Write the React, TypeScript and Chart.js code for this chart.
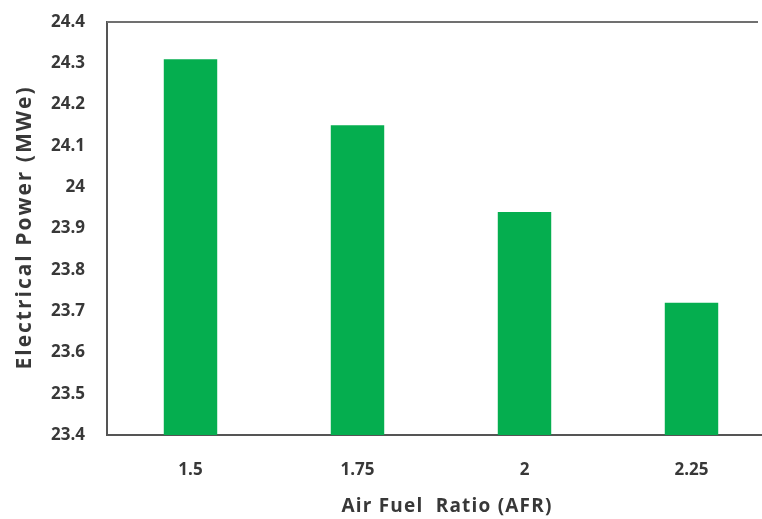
import React, { useEffect, useRef } from "react";
import { Chart, registerables } from "chart.js";

Chart.register(...registerables);

const categories = ["1.5", "1.75", "2", "2.25"];
const powerValues = [24.31, 24.15, 23.94, 23.72];
const yMin = 23.4;
const yMax = 24.4;
const yStep = 0.1;
const xTitle = "Air Fuel  Ratio (AFR)";
const yTitle = "Electrical Power (MWe)";

const FONT = "'Open Sans', 'DejaVu Sans', sans-serif";

const decorPlugin = {
  id: "decor",
  afterDraw(chart: any) {
    const { ctx, chartArea } = chart;
    ctx.save();
    ctx.strokeStyle = "#707070";
    ctx.lineWidth = 2;
    ctx.beginPath();
    ctx.moveTo(chartArea.left, chartArea.top);
    ctx.lineTo(758, chartArea.top);
    ctx.stroke();
    ctx.restore();

    // axis titles (wide tracking like the reference)
    ctx.save();
    ctx.fillStyle = "#383838";
    ctx.textAlign = "center";
    ctx.textBaseline = "middle";
    (ctx as any).letterSpacing = "2px";
    ctx.font = `bold 21px ${FONT}`;
    ctx.translate(25, (chartArea.top + chartArea.bottom) / 2);
    ctx.rotate(-Math.PI / 2);
    ctx.fillText(yTitle, 1, 0);
    ctx.restore();

    ctx.save();
    ctx.fillStyle = "#383838";
    ctx.textAlign = "center";
    ctx.textBaseline = "middle";
    (ctx as any).letterSpacing = "1.2px";
    ctx.font = `bold 19px ${FONT}`;
    ctx.fillText(xTitle, (chartArea.left + chartArea.right) / 2 + 6, 507);
    ctx.restore();
  },
};

export default function App() {
  const ref = useRef<HTMLCanvasElement>(null);
  useEffect(() => {
    const canvas = ref.current!;
    const chart = new Chart(canvas, {
      type: "bar",
      data: {
        labels: categories,
        datasets: [
          {
            data: powerValues,
            backgroundColor: "#05ae4f",
            barPercentage: 0.64,
            categoryPercentage: 0.5,
            base: yMin,
          },
        ],
      },
      options: {
        responsive: false,
        animation: false,
        layout: { padding: { left: 0, top: 22, right: 0, bottom: 0 } },
        plugins: { legend: { display: false }, tooltip: { enabled: false } },
        scales: {
          x: {
            grid: { display: false, drawTicks: false, tickLength: 0 },
            border: { display: true, color: "#555555", width: 2 },
            ticks: { color: "#383838", font: { family: FONT, size: 17, weight: "bold" }, padding: 25 },
            afterFit(scale: any) {
              scale.height = 84;
              scale.paddingLeft = 0;
              scale.paddingRight = 0;
            },
          },
          y: {
            min: yMin,
            max: yMax,
            grid: { display: false, drawTicks: false, tickLength: 0 },
            border: { display: true, color: "#555555", width: 2 },
            ticks: {
              stepSize: yStep,
              color: "#383838",
              font: { family: FONT, size: 17, weight: "bold" },
              padding: 22,
              callback: (v: any) => String(Math.round(Number(v) * 10) / 10),
            },
            afterFit(scale: any) {
              scale.width = 107;
              scale.paddingTop = 0;
              scale.paddingBottom = 0;
            },
          },
        },
      },
      plugins: [decorPlugin],
    });
    return () => chart.destroy();
  }, []);
  return (
    <div style={{ position: "fixed", left: 0, top: 0, width: 762, height: 519, overflow: "hidden", background: "#fff" }}>
      <canvas ref={ref} width={775} height={519} style={{ display: "block", width: 775, height: 519 }} />
    </div>
  );
}
